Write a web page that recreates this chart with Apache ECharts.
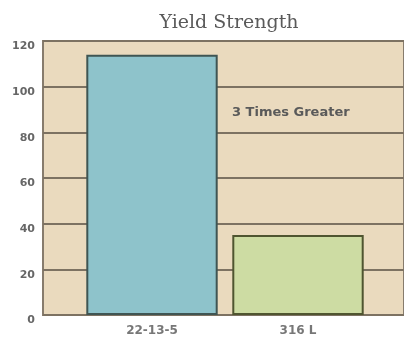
<!DOCTYPE html>
<html><head><meta charset="utf-8">
<script src="https://cdn.jsdelivr.net/npm/echarts@6/dist/echarts.min.js"></script>
<style>html,body{margin:0;padding:0;background:#fff}#c{width:404px;height:339px}</style>
</head><body><div id="c"></div>
<script>
const categories = ['22-13-5', '316 L'];
const values = [114, 35];
const barColors = ['#8ec3cb', '#cddca3'];
const borderColors = ['#3f5553', '#4f5530'];
const yTicks = [0, 20, 40, 60, 80, 100, 120];
const titleText = 'Yield Strength';
const noteText = '3 Times Greater';

const chart = echarts.init(document.getElementById('c'));
chart.setOption({
  animation: false,
  backgroundColor: '#fff',
  title: {text: titleText, left: 224, top: 9, textAlign: 'center',
    textStyle: {fontFamily: 'DejaVu Serif', fontSize: 19, fontWeight: 'normal', color: '#5a5a5a'}},
  grid: [
    {left: 43, right: -2, top: 41, bottom: 24, show: true, backgroundColor: '#eadabe', borderColor: '#877c6d', borderWidth: 2},
    {left: 79, right: 33, top: 41, bottom: 24}
  ],
  xAxis: [
    {gridIndex: 0, type: 'value', min: 0, max: 1, show: false},
    {gridIndex: 1, type: 'category', data: categories,
      axisLine: {show: false}, axisTick: {show: false},
      axisLabel: {color: '#777', fontFamily: 'DejaVu Sans', fontWeight: 'bold', fontSize: 12, margin: 10}}
  ],
  yAxis: [
    {gridIndex: 0, type: 'value', min: yTicks[0], max: yTicks[yTicks.length-1], interval: 20,
      axisLine: {show: false}, axisTick: {show: false},
      splitLine: {show: true, lineStyle: {color: '#7d7262', width: 2}},
      axisLabel: {color: '#666', fontFamily: 'DejaVu Sans', fontWeight: 'bold', fontSize: 11, margin: 8, verticalAlign: 'top',
        formatter: v => yTicks.includes(v) ? String(v) : ''}},
    {gridIndex: 1, type: 'value', min: yTicks[0], max: yTicks[yTicks.length-1], show: false}
  ],
  series: [{
    type: 'bar', xAxisIndex: 1, yAxisIndex: 1, barWidth: '90%',
    data: values.map((v, i) => ({value: v, itemStyle: {color: barColors[i], borderColor: borderColors[i], borderWidth: 2}}))
  }],
  graphic: [{type: 'text', left: 232, top: 106,
    style: {text: noteText, fontFamily: 'DejaVu Sans', fontWeight: 'bold', fontSize: 13, fill: '#5a5a5a'}}]
});
</script></body></html>
